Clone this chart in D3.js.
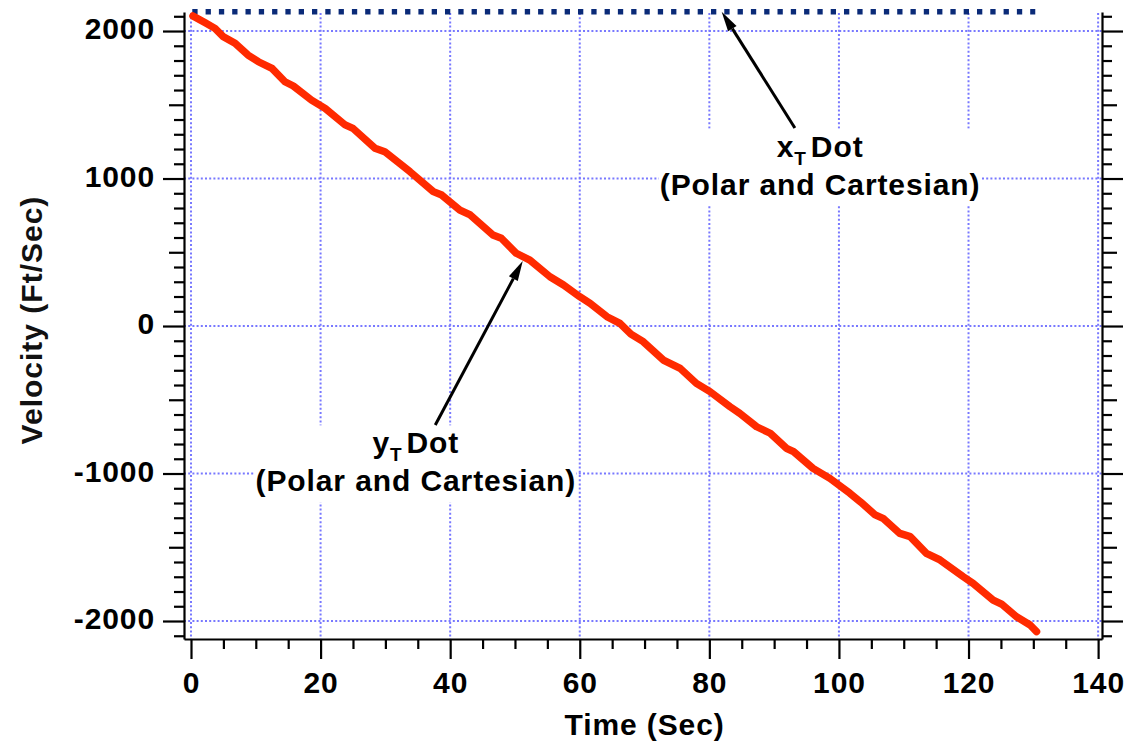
<!DOCTYPE html>
<html><head><meta charset="utf-8">
<script src="https://cdn.jsdelivr.net/npm/d3@7"></script>
<style>
html,body{margin:0;padding:0;background:#fff;}
svg{display:block;}
text{font-family:"Liberation Sans",Arial,Helvetica,sans-serif;font-weight:bold;}
</style></head><body>
<svg id="chart" width="1127" height="746"></svg>
<script>
// ---- data ----
const timeSec = [0.3,2.2,3.7,5.0,6.8,8.8,10.4,12.5,14.5,15.8,18.6,20.7,23.8,25.0,28.4,29.9,32.0,33.8,37.4,38.7,41.5,43.1,46.6,47.9,50.2,52.3,55.4,57.5,60.0,61.6,64.2,66.2,67.9,69.8,72.9,75.5,78.0,80.1,83.2,84.7,87.3,89.4,91.9,93.0,96.0,98.6,101.7,103.4,105.6,106.8,109.4,111.0,113.5,115.6,119.2,120.7,123.8,125.1,127.4,129.5,130.5];
const yTDot = [2102,2056,2018,1961,1917,1837,1792,1747,1656,1627,1532,1476,1363,1340,1205,1182,1110,1046,911,888,786,753,617,595,493,447,334,278,199,154,63,18,-55,-106,-231,-287,-389,-445,-547,-592,-683,-727,-829,-852,-965,-1033,-1134,-1195,-1281,-1304,-1406,-1428,-1541,-1586,-1700,-1745,-1858,-1885,-1971,-2027,-2072];
const xTTime = [0.2, 130.3];
const xTDot = [2131, 2131];
const xTickValues = [0,20,40,60,80,100,120,140];
const yTickValues = [-2000,-1000,0,1000,2000];
const xTitle = "Time (Sec)";
const yTitle = "Velocity (Ft/Sec)";
const annotations = [
  {main:"x", sub:"T", rest:"Dot", line2:"(Polar and Cartesian)", at:[97.1,1148], tail:[93.2,1343], tip:[81.9,2131]},
  {main:"y", sub:"T", rest:"Dot", line2:"(Polar and Cartesian)", at:[34.7,-863], tail:[37.7,-671], tip:[51.2,441]}
];

// ---- layout ----
const svg = d3.select("#chart");
const x = d3.scaleLinear().domain([-1.08, 140.6]).range([184, 1102]);
const y = d3.scaleLinear().domain([-2122, 2129]).range([639, 12]);
const [x0, x1] = x.range();
const [yb, yt] = y.range();
const FONT = 30, LS = 0.9;

const gridL = svg.append("g"), boxL = svg.append("g"), serL = svg.append("g"), annL = svg.append("g"), axL = svg.append("g");

// grid
const gridColor = "#7878ff";
gridL.selectAll("line.v").data(xTickValues).join("line")
  .attr("x1", d => x(d)).attr("x2", d => x(d)).attr("y1", yt + 1).attr("y2", yb)
  .attr("stroke", gridColor).attr("stroke-width", 2).attr("stroke-dasharray", "2,2.2");
gridL.selectAll("line.h").data(yTickValues).join("line")
  .attr("x1", x0).attr("x2", x1).attr("y1", d => y(d)).attr("y2", d => y(d))
  .attr("stroke", gridColor).attr("stroke-width", 2).attr("stroke-dasharray", "2,2.2");

// series
const line = d3.line().x(d => x(d[0])).y(d => y(d[1]));
serL.append("path").datum(d3.zip(xTTime, xTDot)).attr("d", line)
  .attr("fill", "none").attr("stroke", "#0a2a78").attr("stroke-width", 5.5)
  .attr("stroke-dasharray", "5.3,8");
serL.append("path").datum(d3.zip(timeSec, yTDot)).attr("d", line)
  .attr("fill", "none").attr("stroke", "#ff2a00").attr("stroke-width", 7.4)
  .attr("stroke-linejoin", "round").attr("stroke-linecap", "round");

// annotations
annotations.forEach(a => {
  const g = annL.append("g");
  const cx = x(a.at[0]), by = y(a.at[1]);
  const t1 = g.append("text").attr("x", cx).attr("y", by).attr("text-anchor", "middle")
    .attr("font-size", FONT).attr("letter-spacing", LS).attr("fill", "#000");
  t1.append("tspan").text(a.main);
  t1.append("tspan").attr("font-size", 19).attr("dy", 8).text(a.sub);
  t1.append("tspan").attr("dy", -8).attr("dx", 4).text(a.rest);
  g.append("text").attr("x", cx).attr("y", by + 38).attr("text-anchor", "middle")
    .attr("font-size", FONT).attr("letter-spacing", LS).attr("fill", "#000").text(a.line2);
  const bb = g.node().getBBox();
  boxL.append("rect").attr("x", bb.x - 1).attr("y", bb.y - 1).attr("width", bb.width + 1).attr("height", bb.height + 6).attr("fill", "#fff");
  // arrow
  const tx = x(a.tail[0]), ty = y(a.tail[1]), px = x(a.tip[0]), py = y(a.tip[1]);
  const ang = Math.atan2(py - ty, px - tx), L = 20, W = 5;
  const bx = px - L * Math.cos(ang), byy = py - L * Math.sin(ang);
  annL.append("line").attr("x1", tx).attr("y1", ty).attr("x2", bx).attr("y2", byy)
    .attr("stroke", "#000").attr("stroke-width", 3);
  const nx = -Math.sin(ang), ny = Math.cos(ang);
  annL.append("path").attr("d", `M${px},${py}L${bx + nx * W},${byy + ny * W}L${bx - nx * W},${byy - ny * W}Z`).attr("fill", "#000");
});

// axes
const yMinor = d3.range(-2100, 2101, 100).filter(d => d % 500 !== 0);
const yMid = d3.range(-2000, 2001, 500).filter(d => d % 1000 !== 0);
const xMinor = d3.range(0, 141, 5).filter(d => d % 20 !== 0);
function style(sel, keepDomain) {
  sel.attr("font-size", FONT).attr("font-family", null);
  sel.selectAll(".tick line").attr("stroke", "#000").attr("stroke-width", 2.2);
  sel.select(".domain").attr("stroke", "#000").attr("stroke-width", 2.2);
  if (!keepDomain) sel.select(".domain").remove();
  sel.selectAll("text").attr("fill", "#000").attr("letter-spacing", LS);
}
// left
axL.append("g").attr("transform", `translate(${x0},0)`).call(d3.axisLeft(y).tickValues(yMinor).tickSize(10).tickSizeOuter(0).tickFormat("")).call(s => style(s, false));
axL.append("g").attr("transform", `translate(${x0},0)`).call(d3.axisLeft(y).tickValues(yMid).tickSize(15).tickSizeOuter(0).tickFormat("")).call(s => style(s, false));
axL.append("g").attr("transform", `translate(${x0},0)`).call(d3.axisLeft(y).tickValues(yTickValues).tickSize(21).tickPadding(8).tickSizeOuter(0).tickFormat(d => String(d))).call(s => style(s, true))
  .selectAll("text").attr("dy", "0.25em");
// right
axL.append("g").attr("transform", `translate(${x1},0)`).call(d3.axisRight(y).tickValues(yMinor).tickSize(10).tickSizeOuter(0).tickFormat("")).call(s => style(s, false));
axL.append("g").attr("transform", `translate(${x1},0)`).call(d3.axisRight(y).tickValues(yMid).tickSize(15).tickSizeOuter(0).tickFormat("")).call(s => style(s, false));
axL.append("g").attr("transform", `translate(${x1},0)`).call(d3.axisRight(y).tickValues(yTickValues).tickSize(21).tickSizeOuter(0).tickFormat("")).call(s => style(s, true));
// bottom
axL.append("g").attr("transform", `translate(0,${yb})`).call(d3.axisBottom(x).tickValues(xMinor).tickSize(10).tickSizeOuter(0).tickFormat("")).call(s => style(s, false));
axL.append("g").attr("transform", `translate(0,${yb})`).call(d3.axisBottom(x).tickValues(xTickValues).tickSize(20).tickPadding(13).tickSizeOuter(0).tickFormat(d => String(d))).call(s => style(s, true));

// titles
axL.append("text").attr("x", x(70)).attr("y", 735).attr("text-anchor", "middle")
  .attr("font-size", FONT).attr("letter-spacing", LS).attr("fill", "#000").text(xTitle);
axL.append("text").attr("transform", "translate(42,320) rotate(-90)").attr("text-anchor", "middle")
  .attr("font-size", FONT).attr("letter-spacing", 1).attr("fill", "#111").text(yTitle);
</script>
</body></html>
